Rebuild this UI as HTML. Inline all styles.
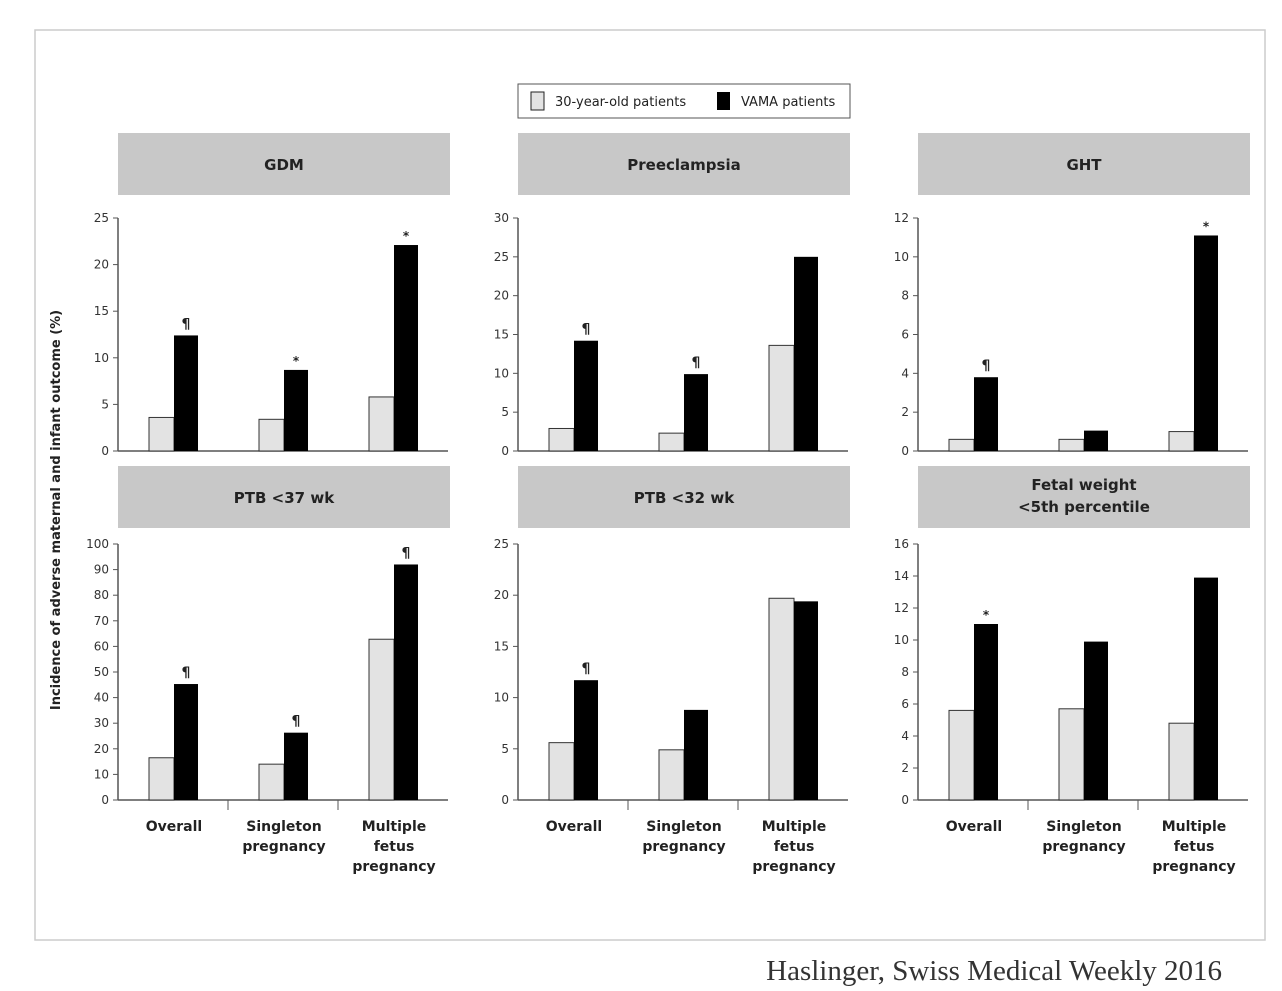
<!DOCTYPE html>
<html><head><meta charset="utf-8"><style>
body{margin:0;background:#fff;width:1282px;height:986px;overflow:hidden}
svg text{font-family:"DejaVu Sans","Liberation Sans",sans-serif}
</style></head><body>
<svg id="c" width="1282" height="986">
<rect x="35" y="30" width="1230" height="910" fill="none" stroke="#ccc" stroke-width="1.5"/>
<g>
<rect x="518" y="84" width="332" height="34" fill="#fff" stroke="#555"/>
<rect x="531" y="92" width="13" height="18" fill="#e3e3e3" stroke="#222"/>
<text x="555" y="106" font-size="13" fill="#222">30-year-old patients</text>
<rect x="717" y="92" width="13" height="18" fill="#000"/>
<text x="741" y="106" font-size="13" fill="#222">VAMA patients</text>
</g>
<text transform="translate(60,510) rotate(-90)" text-anchor="middle" font-size="13" font-weight="bold" fill="#222">Incidence of adverse maternal and infant outcome (%)</text>
<text x="1222" y="980" text-anchor="end" font-size="29" fill="#333" style="font-family:'Liberation Serif',serif">Haslinger, Swiss Medical Weekly 2016</text>
</svg>
<script>
const titles=["GDM","Preeclampsia","GHT","PTB <37 wk","PTB <32 wk","Fetal weight|<5th percentile"];
const yMax=[25,30,12,100,25,16];
const yStep=[5,5,2,10,5,2];
const light=[[3.6,3.4,5.8],[2.9,2.3,13.6],[0.6,0.6,1.0],[16.5,14,62.8],[5.6,4.9,19.7],[5.6,5.7,4.8]];
const dark=[[12.4,8.7,22.1],[14.2,9.9,25],[3.8,1.05,11.1],[45.3,26.3,92],[11.7,8.8,19.4],[11,9.9,13.9]];
const marks=[["¶","*","*"],["¶","¶",""],["¶","","*"],["¶","¶","¶"],["¶","",""],["*","",""]];
const cats=[["Overall"],["Singleton","pregnancy"],["Multiple","fetus","pregnancy"]];
const NS="http://www.w3.org/2000/svg";
const svg=document.getElementById('c');
function mk(t,a,p){const e=document.createElementNS(NS,t);for(const k in a)e.setAttribute(k,a[k]);(p||svg).appendChild(e);return e;}
for(let p=0;p<6;p++){
  const col=p%3,row=Math.floor(p/3);
  const x0=118+col*400,w=330;
  const hy=row?466:133;
  const top=row?544:218,zero=row?800:451;
  const g=mk('g',{});
  
  
  const hr=mk('rect',{x:x0,y:hy,width:332,height:62,fill:'#c8c8c8'},g);
  
  
  const tl=titles[p].split('|');
  tl.forEach((s,i)=>{
    const t=mk('text',{x:x0+166,y:hy+(tl.length>1?24+i*22:37),'text-anchor':'middle','font-size':'15','font-weight':'bold',fill:'#222'},g);
    t.textContent=s;
    
    
  });
  const ys=v=>zero-(v/yMax[p])*(zero-top);
  const ax=mk('line',{x1:x0,y1:top,x2:x0,y2:zero,stroke:'#555','stroke-width':1.5},g);
  
  
  const bx=mk('line',{x1:x0,y1:zero,x2:x0+w,y2:zero,stroke:'#555','stroke-width':1.5},g);
  
  
  for(let v=0;v<=yMax[p]+1e-9;v+=yStep[p]){
    mk('line',{x1:x0-5,y1:ys(v),x2:x0,y2:ys(v),stroke:'#555'},g);
    const t=mk('text',{x:x0-9,y:ys(v)+4,'text-anchor':'end','font-size':'12',fill:'#333'},g);
    t.textContent=v;
    
    
  }
  for(let c=0;c<3;c++){
    const gx=x0+c*110;
    if(row&&c>0) mk('line',{x1:gx,y1:zero,x2:gx,y2:zero+10,stroke:'#555'},g);
    const l=mk('rect',{x:gx+31,y:ys(light[p][c]),width:25,height:zero-ys(light[p][c]),fill:'#e3e3e3',stroke:'#333','stroke-width':1},g);
    
    
    const d=mk('rect',{x:gx+56,y:ys(dark[p][c]),width:24,height:zero-ys(dark[p][c]),fill:'#000'},g);
    
    
    if(marks[p][c]){
      const m=mk('text',{x:gx+68,y:ys(dark[p][c])-(marks[p][c]=='*'?5:7),'text-anchor':'middle','font-size':marks[p][c]=='*'?'12':'14','font-weight':'bold',fill:'#222'},g);
      m.textContent=marks[p][c];
      
      
    }
    if(row){
      cats[c].forEach((s,i)=>{
        const t=mk('text',{x:gx+56,y:zero+31+i*20,'text-anchor':'middle','font-size':'14','font-weight':'bold',fill:'#222'},g);
        t.textContent=s;
        
        
      });
    }
  }
}
</script>
</body></html>
